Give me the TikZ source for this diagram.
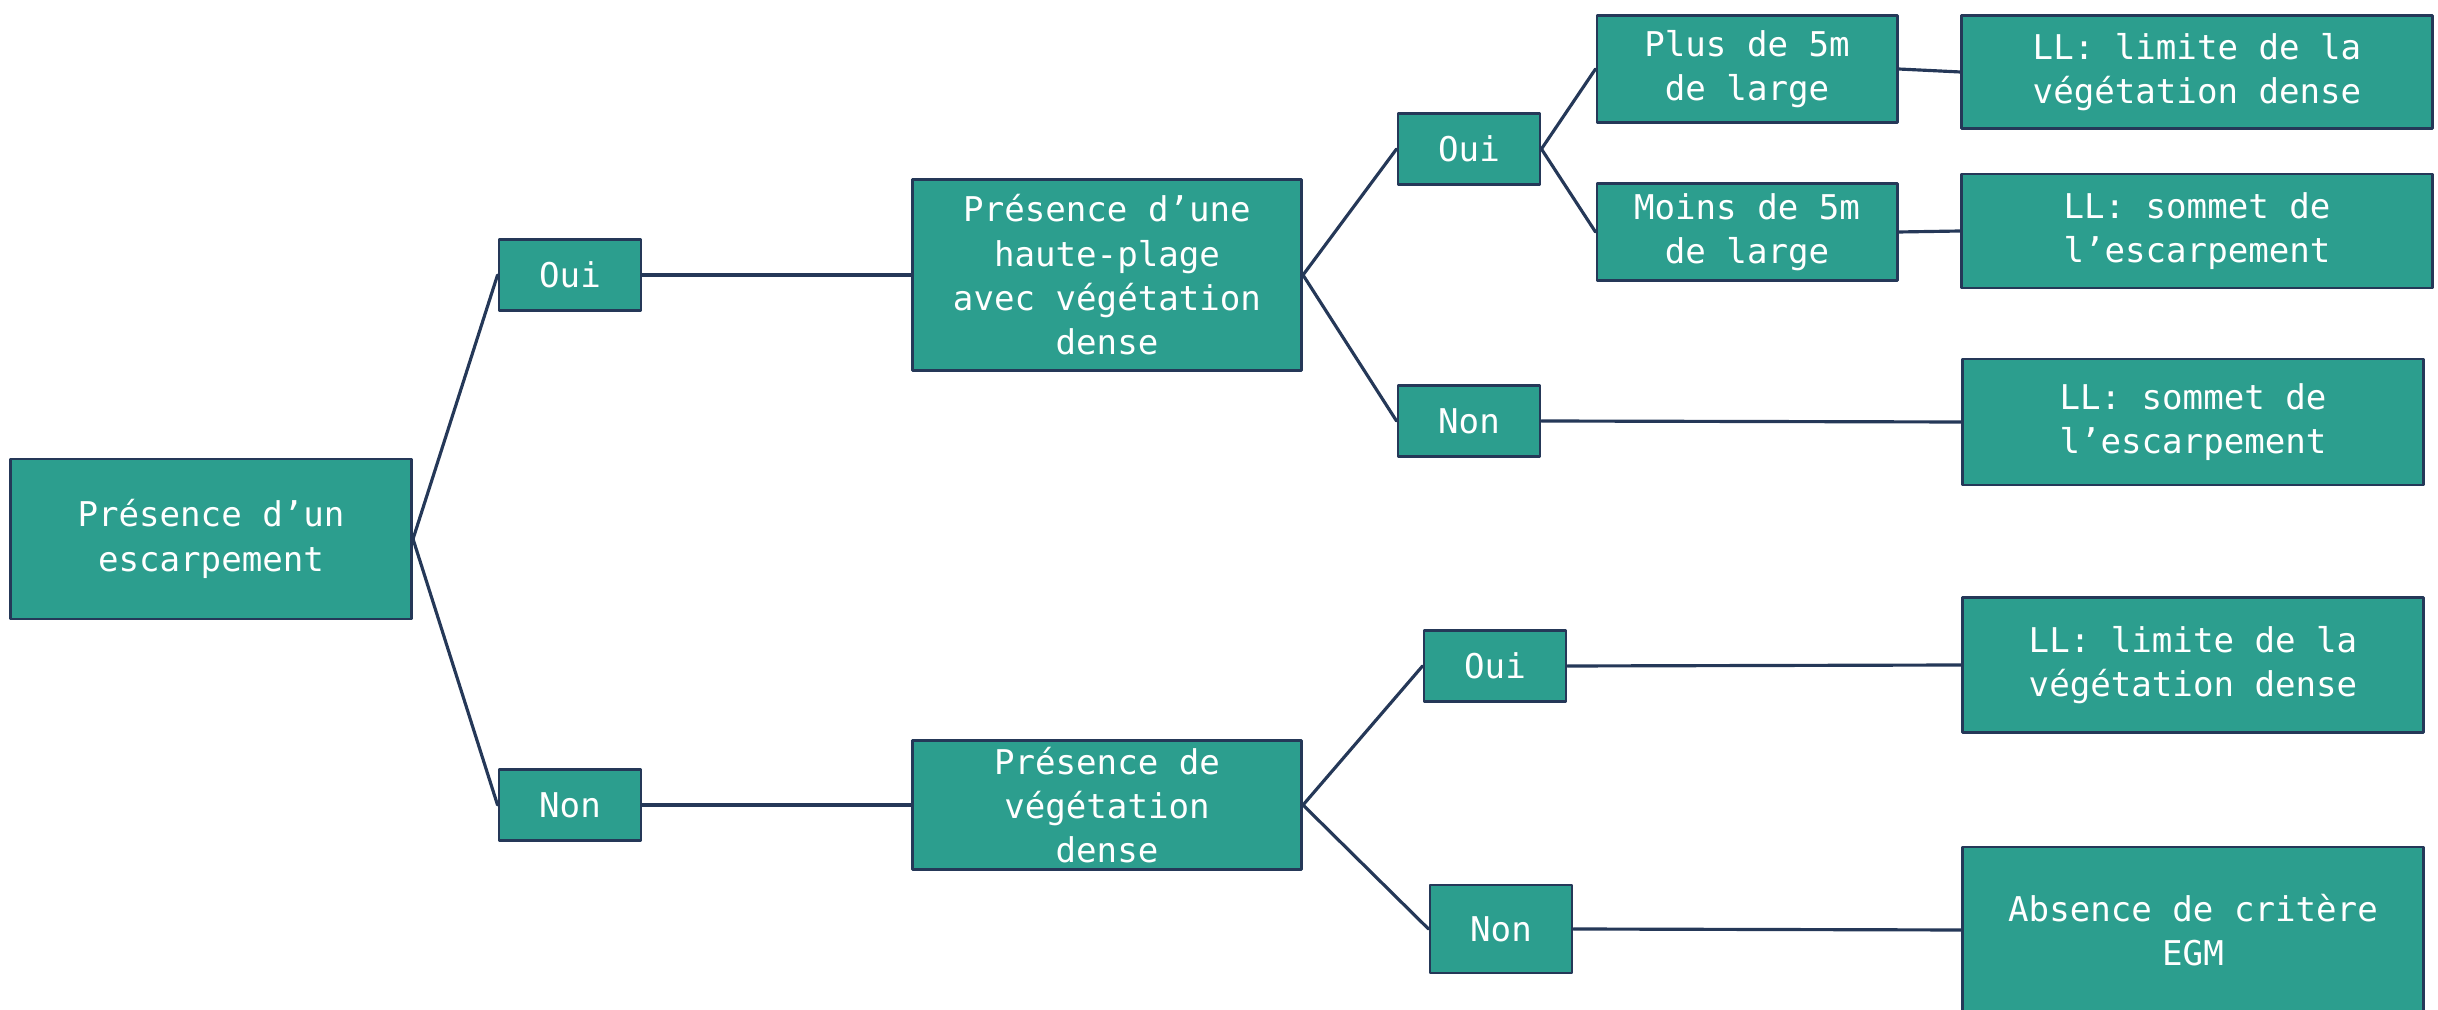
\documentclass[tikz,border=0pt]{standalone}
\usepackage{fontspec}
\setmonofont{DejaVu Sans Mono}
\definecolor{vert}{RGB}{44,158,142}
\definecolor{bord}{RGB}{37,56,88}
\begin{document}
\begin{tikzpicture}[x=0.01cm,y=-0.01cm,line join=round,line cap=round,
	boite/.style={draw=bord,fill=vert,line width=0.8pt,text=white,align=center,inner sep=0pt,
		font=\ttfamily\fontsize{9.7}{12.6}\selectfont},
	choix/.style={boite,minimum width=1.42cm,minimum height=0.71cm},
	lien/.style={draw=bord,line width=0.9pt}]
	\useasboundingbox (0,0) rectangle (2438,1010);
	% racine
	\node[boite,minimum width=4.01cm,minimum height=1.6cm] (esc) at (211,539) {Présence d’un\\escarpement};
	\node[choix] (oui1) at (570,275) {Oui};
	\node[choix] (non1) at (570,805) {Non};
	\node[boite,minimum width=3.89cm,minimum height=1.91cm] (hp) at (1107,275) {Présence d’une\\haute-plage\\avec végétation\\dense};
	\node[boite,minimum width=3.89cm,minimum height=1.29cm] (veg) at (1107,805) {Présence de\\végétation\\dense};
	% branche haute-plage
	\node[choix] (oui2) at (1469,149) {Oui};
	\node[choix] (non2) at (1469,421) {Non};
	\node[boite,minimum width=3cm,minimum height=1.07cm] (plus) at (1747,69) {Plus de 5m\\de large};
	\node[boite,minimum width=3cm,minimum height=0.97cm] (moins) at (1747,232) {Moins de 5m\\de large};
	\node[boite,minimum width=4.7cm,minimum height=1.13cm] (ll1) at (2197,72) {LL: limite de la\\végétation dense};
	\node[boite,minimum width=4.7cm,minimum height=1.14cm] (ll2) at (2197,231) {LL: sommet de\\l’escarpement};
	\node[boite,minimum width=4.61cm,minimum height=1.26cm] (ll3) at (2193,422) {LL: sommet de\\l’escarpement};
	% branche vegetation
	\node[choix] (oui3) at (1495,666) {Oui};
	\node[choix,minimum height=0.88cm] (non3) at (1501,929) {Non};
	\node[boite,minimum width=4.61cm,minimum height=1.35cm] (ll4) at (2193,665) {LL: limite de la\\végétation dense};
	\node[boite,minimum width=4.61cm,minimum height=1.66cm] (abs) at (2193,930) {Absence de critère\\EGM};
	% liens
	\draw[lien] (esc.east)--(oui1.west) (esc.east)--(non1.west);
	\draw[lien] (oui1.east)--(hp.west) (non1.east)--(veg.west);
	\draw[lien] (hp.east)--(oui2.west) (hp.east)--(non2.west);
	\draw[lien] (oui2.east)--(plus.west) (oui2.east)--(moins.west);
	\draw[lien] (plus.east)--(ll1.west) (moins.east)--(ll2.west) (non2.east)--(ll3.west);
	\draw[lien] (veg.east)--(oui3.west) (veg.east)--(non3.west);
	\draw[lien] (oui3.east)--(ll4.west) (non3.east)--(abs.west);
\end{tikzpicture}
\end{document}
